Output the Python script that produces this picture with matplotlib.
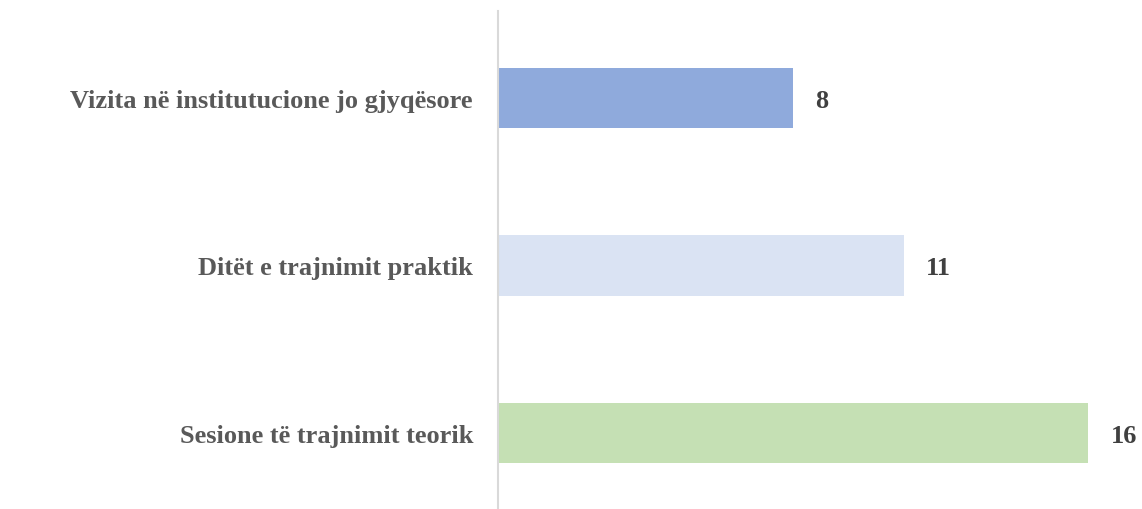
import matplotlib.pyplot as plt

categories = ["Vizita në institutucione jo gjyqësore",
              "Ditët e trajnimit praktik",
              "Sesione të trajnimit teorik"]
values = [8, 11, 16]
colors = ["#8FAADC", "#DAE3F3", "#C5E0B4"]

plt.rcParams['font.family'] = ['Liberation Serif', 'DejaVu Serif']

fig = plt.figure(figsize=(11.42, 5.10), dpi=100)
# axes: left edge at the vertical axis line, spans to right border
ax = fig.add_axes([498 / 1142, 0.0, 1 - 498 / 1142, (510 - 12) / 510])

ypos = list(range(len(categories)))
ax.barh(ypos, values, height=0.36, color=colors)
ax.set_ylim(2.454, -0.519)
ax.set_xlim(0, 17.45)

ax.set_yticks(ypos)
ax.set_yticklabels(categories, fontsize=19, fontweight='bold', color='#595959')
ax.tick_params(axis='y', length=0, pad=18)
ax.set_xticks([])

for y, v in zip(ypos, values):
    ax.annotate(str(v), xy=(v, y), xytext=(16, 0), textcoords='offset points',
                va='center_baseline', ha='left', fontsize=19, fontweight='bold',
                color='#404040')

for s in ['top', 'right', 'bottom']:
    ax.spines[s].set_visible(False)
ax.spines['left'].set_color('#D9D9D9')
ax.spines['left'].set_linewidth(1.5)

fig.savefig("out.png", dpi=100)
